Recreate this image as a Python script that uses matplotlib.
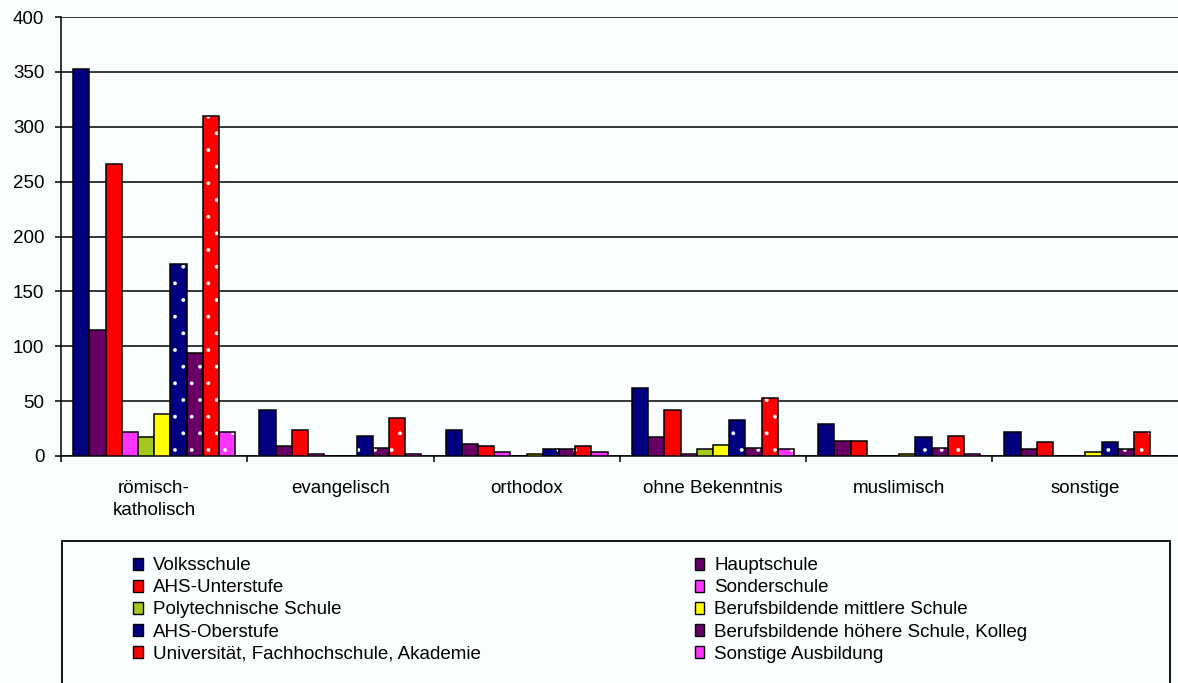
import numpy as np
import matplotlib.pyplot as plt
from matplotlib.patches import Patch, Rectangle

plt.rcParams['font.family'] = ['Liberation Sans', 'DejaVu Sans']
plt.rcParams['hatch.linewidth'] = 0.3

categories = ['römisch-\nkatholisch', 'evangelisch', 'orthodox',
              'ohne Bekenntnis', 'muslimisch', 'sonstige']

series = ['Volksschule', 'Hauptschule', 'AHS-Unterstufe', 'Sonderschule',
          'Polytechnische Schule', 'Berufsbildende mittlere Schule',
          'AHS-Oberstufe', 'Berufsbildende höhere Schule, Kolleg',
          'Universität, Fachhochschule, Akademie', 'Sonstige Ausbildung']

volksschule  = [353, 42, 24, 62, 29, 22]
hauptschule  = [115, 9, 11, 17, 14, 6]
ahs_unter    = [266, 24, 9, 42, 14, 13]
sonderschule = [22, 2, 4, 2, 0, 0]
poly         = [17, 0, 0, 6, 0, 0]
bms          = [38, 0, 2, 10, 2, 4]
ahs_ober     = [175, 18, 6, 33, 17, 13]
bhs          = [94, 7, 6, 7, 7, 6]
uni          = [310, 35, 9, 53, 18, 22]
sonstige_ausb = [22, 2, 4, 6, 2, 0]

values = [volksschule, hauptschule, ahs_unter, sonderschule, poly, bms,
          ahs_ober, bhs, uni, sonstige_ausb]
colors = ['#000080', '#660066', '#ff0000', '#ff33ff', '#a4c81c', '#ffff00',
          '#000080', '#660066', '#ff0000', '#ff33ff']
dotted = [False] * 6 + [True] * 4

FS = 13.5
W, H = 1178, 683
fig = plt.figure(figsize=(W / 100, H / 100), dpi=100)
bg = '#fbfefe'
fig.patch.set_facecolor(bg)
ax = fig.add_axes([61 / W, 1 - 456 / H, (1178.6 - 61) / W, (456 - 17) / H])
ax.set_facecolor(bg)

x = np.arange(len(categories))
w = 1 / 11.5
for i, (vals, c) in enumerate(zip(values, colors)):
    left = x - 0.5 + 0.75 * w + i * w
    if dotted[i]:
        ax.bar(left, vals, w, align='edge', color=c, edgecolor='white',
               linewidth=0, hatch='.', zorder=3)
        ax.bar(left, vals, w, align='edge', fill=False, edgecolor='black',
               linewidth=1.1, zorder=4)
    else:
        ax.bar(left, vals, w, align='edge', color=c, edgecolor='black',
               linewidth=1.1, zorder=3)

ax.set_xlim(-0.5, 5.5)
ax.set_ylim(0, 400)
ax.set_yticks(np.arange(0, 401, 50))
ax.yaxis.grid(True, color='black', linewidth=1.1, zorder=0)
ax.set_axisbelow(True)
ax.tick_params(axis='y', length=4, width=1.1, labelsize=FS, pad=8, colors='black')

ax.set_xticks(np.arange(-0.5, 5.6, 1))
ax.set_xticklabels([])
ax.tick_params(axis='x', which='major', length=4, width=1.1)
ax.set_xticks(x, minor=True)
ax.set_xticklabels(categories, minor=True, fontsize=FS, linespacing=1.45, va='top')
ax.tick_params(axis='x', which='minor', length=0, pad=17)

for s in ['top', 'right']:
    ax.spines[s].set_visible(False)
for s in ['left', 'bottom']:
    ax.spines[s].set_linewidth(1.1)

# legend is filled row by row in the reference
order = [0, 2, 4, 6, 8, 1, 3, 5, 7, 9]
handles = [Patch(facecolor=colors[k], edgecolor='black', linewidth=1.0) for k in order]
labels = [series[k] for k in order]
leg = fig.legend(handles, labels, ncol=2, loc='upper left',
                 bbox_to_anchor=(124 / W, 1 - 548 / H), frameon=False,
                 fontsize=FS, handlelength=0.5, handleheight=0.65,
                 handletextpad=0.55, columnspacing=11.4, labelspacing=0.27,
                 borderpad=0)
fig.add_artist(Rectangle((62 / W, -0.05), (1170 - 62) / W, 0.05 + 1 - 541 / H,
                         transform=fig.transFigure, fill=False,
                         edgecolor='black', linewidth=1.3))

fig.savefig('out.png', dpi=100, facecolor=bg)
